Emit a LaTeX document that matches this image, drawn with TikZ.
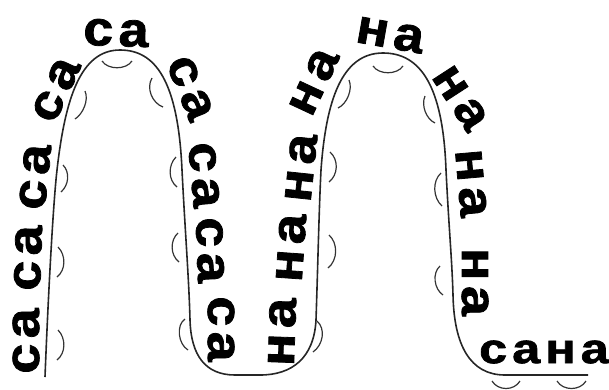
\documentclass[tikz,border=0pt]{standalone}
\usepackage{fontspec}
\setmainfont{Liberation Sans}
\newfontfamily\sylfont{Liberation Sans Bold}[FakeBold=1.5]
\usepackage{graphicx}
\newcommand\sylsa{\scalebox{1.1}[1]{с\kern.1em а}}
\newcommand\sylna{\scalebox{1.1}[1]{н\kern.1em а}}
\newcommand\sylsana{\scalebox{1.2}[1]{с\kern.1em а\kern.1em н\kern.1em а}}
\begin{document}
\begin{tikzpicture}[x=1pt, y=-1pt,
  syl/.style={font=\fontsize{49}{49}\selectfont\sylfont, inner sep=0pt},
  sylsmall/.style={font=\fontsize{42}{42}\selectfont\sylfont, inner sep=0pt},
  curve/.style={line width=1.6pt, black!85},
  mk/.style={line width=1.2pt, black!80}]
\useasboundingbox (0,0) rectangle (609,389);
% main wavy line
\draw[curve] (45,377) .. controls (48,300) and (53,205) .. (57,170)
  .. controls (65,100) and (80,50) .. (120,50)
  .. controls (155,50) and (178,80) .. (182,170)
  .. controls (185,230) and (189,280) .. (190,320)
  .. controls (191,355) and (205,375) .. (235,375)
  -- (260,375)
  .. controls (292,375) and (314,358) .. (316,320)
  .. controls (318,260) and (319,210) .. (321,170)
  .. controls (326,100) and (342,53) .. (383,53)
  .. controls (420,53) and (443,85) .. (446,170)
  .. controls (449,230) and (452,260) .. (453,295)
  .. controls (454,345) and (470,375) .. (505,375)
  -- (588,375);
% syllables "са"
\node[syl, rotate=90]  (s1) at (26,341) {\sylsa};
\node[syl, rotate=88]  (s2) at (28,258) {\sylsa};
\node[syl, rotate=84]  (s3) at (35,177) {\sylsa};
\node[syl, rotate=65]  (s4) at (56,90)  {\sylsa};
\node[syl, rotate=-2]  (s5) at (116,33) {\sylsa};
\node[syl, rotate=-68] (s6) at (190,88) {\sylsa};
\node[syl, rotate=-85] (s7) at (204,175) {\sylsa};
\node[syl, rotate=-88] (s8) at (210,250) {\sylsa};
\node[syl, rotate=-90] (s9) at (221,329) {\sylsa};
% syllables "на"
\node[syl, rotate=88]  (n1) at (282,332) {\sylna};
\node[syl, rotate=86]  (n2) at (291,248) {\sylna};
\node[syl, rotate=84]  (n3) at (301,168) {\sylna};
\node[syl, rotate=65]  (n4) at (314,82)  {\sylna};
\node[syl, rotate=-10] (n5) at (390,35)  {\sylna};
\node[syl, rotate=-57] (n6) at (460,98)  {\sylna};
\node[syl, rotate=-85] (n7) at (471,183) {\sylna};
\node[syl, rotate=-90] (n8) at (475,282) {\sylna};
\node[sylsmall] (sana) at (544,352) {\sylsana};
% small arc marks, arch 1
\draw[mk] (102,61) .. controls (108,70) and (126,70) .. (132,61);
\draw[mk] (85,91) .. controls (89,100) and (83,114) .. (75,119);
\draw[mk] (152,78) .. controls (146,88) and (152,103) .. (163,107);
\draw[mk] (63,165) .. controls (70,172) and (69,185) .. (61,192);
\draw[mk] (58,247) .. controls (66,255) and (66,270) .. (57,277);
\draw[mk] (58,330) .. controls (66,338) and (66,353) .. (57,360);
\draw[mk] (176,157) .. controls (168,165) and (168,180) .. (177,187);
\draw[mk] (178,233) .. controls (170,240) and (170,255) .. (179,262);
\draw[mk] (185,319) .. controls (176,325) and (178,344) .. (188,350);
% small arc marks, arch 2
\draw[mk] (373,66) .. controls (379,75) and (397,75) .. (403,66);
\draw[mk] (349,80) .. controls (353,89) and (347,104) .. (338,108);
\draw[mk] (425,96) .. controls (421,105) and (426,119) .. (435,123);
\draw[mk] (330,152) .. controls (339,160) and (338,175) .. (329,182);
\draw[mk] (329,235) .. controls (338,243) and (338,260) .. (328,268);
\draw[mk] (317,321) .. controls (326,329) and (323,345) .. (313,352);
\draw[mk] (441,173) .. controls (432,181) and (433,198) .. (442,206);
\draw[mk] (440,266) .. controls (432,273) and (434,289) .. (443,295);
% marks under "сана"
\draw[mk] (492,381) .. controls (498,391) and (514,391) .. (520,381);
\draw[mk] (557,381) .. controls (563,391) and (580,391) .. (586,381);
\end{tikzpicture}
\end{document}
